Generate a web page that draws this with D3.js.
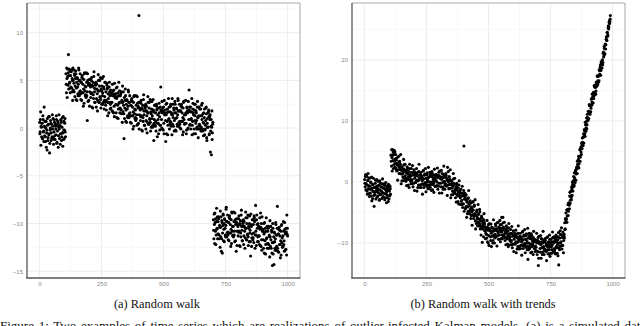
<!DOCTYPE html>
<html>
<head>
<meta charset="utf-8">
<script src="https://cdn.jsdelivr.net/npm/d3@7"></script>
<style>
  html, body { margin: 0; padding: 0; background: #fff; }
  svg { display: block; }
</style>
</head>
<body>
<svg id="chart" width="640" height="326"></svg>
<script>
// ---------------- DATA ----------------
const timeStep = 2;

// (a) Random walk — three regimes, odd and even time indices
const walkA1Start = 1;
const walkA1 = [0.6, -0.4, 1.7, 0.2, -0.9, 0.5, -1.1, 0.9, -0.3, 2.2,
  -0.8, 0.1, -1.4, 0.7, -0.5, -2.3, 0.3, -1.0, 1.2, -0.6,
  -2.6, -0.2, 0.8, -1.3, 0.4, -0.9, -0.1, 1.0, -1.7, -0.4,
  0.6, -1.2, 0.2, -0.7, 0.9, -1.5, -0.3, 0.5, -0.8, 1.4,
  -1.1, 0.3, -0.6, 0.8, -1.3, 0.1, 1.1, -0.5, -1.2, 0.7,
  -0.2, 1.0, -0.9];
const walkA1bStart = 2;
const walkA1b = [-0.6, 0.9, -1.8, 0.1, 0.5, -1.1, 1.3, -0.4, -1.4, 0.2,
  0.7, -0.9, 0.0, -2.0, -0.2, 1.0, -1.3, 0.4, -0.7, 1.2,
  -1.6, 0.0, 0.5, -0.5, -1.1, 1.4, 0.2, -1.0, 0.9, -1.2,
  -0.8, 0.4, -0.1, 1.3, -1.6, 0.3, 0.7, -2.0, 0.1, -0.1,
  0.2, -1.7, 0.9, 0.6, -0.9, -0.5, -1.9, 1.2, -0.2, -1.1,
  0.5, -0.4];
const walkA2Start = 107;
const walkA2 = [5.7, 3.7, 5.2, 6.2, 4.5, 7.7, 5.5, 4.7, 6.0, 4.2,
  4.3, 6.1, 3.8, 5.0, 6.3, 4.0, 4.7, 5.7, 3.3, 5.2,
  5.7, 4.2, 2.9, 5.2, 3.6, 4.6, 6.1, 3.4, 5.0, 3.9,
  3.0, 4.8, 5.3, 3.7, 4.6, 2.3, 5.1, 5.7, 3.9, 3.4,
  4.3, 5.8, 3.4, 0.8, 5.0, 4.5, 2.9, 4.7, 3.8, 5.1,
  3.2, 5.0, 3.7, 4.5, 2.1, 3.5, 5.4, 4.2, 2.7, 4.7,
  4.1, 2.2, 4.6, 3.6, 2.9, 5.6, 3.9, 2.7, 5.0, 3.2,
  3.0, 4.1, 2.5, 5.2, 3.7, 2.7, 4.3, 2.0, 3.3, 4.8,
  2.4, 2.9, 4.7, 4.1, 1.3, 3.6, 2.7, 4.3, 3.8, 2.0,
  4.0, 2.7, 3.6, 1.8, 3.4, 3.9, 1.6, 2.3, 4.7, 3.2,
  3.6, 1.6, 3.1, 4.3, 2.4, 1.0, 3.4, 2.6, 3.9, 2.1,
  2.0, 3.8, 1.5, 2.7, 4.4, 1.7, 2.4, -1.1, 1.0, 2.9,
  3.4, 1.9, 0.6, 2.9, 1.3, 2.3, 3.8, 1.1, 2.7, 1.6,
  0.6, 2.4, 2.9, 1.3, 2.2, -0.1, 2.7, 3.3, 1.5, 1.0,
  1.9, 3.4, 1.0, 0.3, 2.6, 2.1, 0.5, 11.8, 1.4, 2.7,
  0.8, 2.6, 1.3, 2.1, -0.3, 1.1, 3.0, 1.8, 0.3, 2.3,
  1.8, -0.1, 2.3, 1.3, 0.6, 3.3, 1.6, 0.4, 2.7, 0.9,
  0.6, 1.7, 0.1, 2.8, 1.3, 0.3, 1.9, -1.3, 0.9, 2.4,
  0.2, 0.7, 2.5, 1.9, -0.9, 1.4, 0.5, 2.1, 1.6, -0.2,
  2.2, 4.3, 1.8, 0.0, 1.6, 2.1, -0.2, 0.5, 2.9, 1.4,
  1.9, -1.4, 1.4, 2.6, 0.7, -0.7, 1.7, 0.9, 2.2, 0.4,
  0.7, 2.5, 0.2, 1.4, 3.1, 0.4, 1.1, 2.1, -0.3, 1.6,
  2.5, 1.0, -0.3, 2.0, 0.4, 1.4, 2.9, 0.2, 1.8, 0.7,
  0.0, 1.8, 2.3, 0.7, 1.6, -0.7, 2.1, 2.7, 0.9, 0.4,
  1.4, 2.9, 0.5, -0.2, 2.1, 1.6, 0.0, 1.8, 4.0, 2.2,
  0.4, 2.2, 0.9, 1.7, -0.7, 0.7, 2.6, 1.4, -0.1, 1.9,
  1.3, -0.6, 1.8, 0.8, 0.1, 2.8, 1.1, -0.1, 2.2, 0.4,
  0.2, 1.3, -0.3, 2.4, 0.9, -0.1, 1.5, -0.8, 0.5, 2.0,
  -0.2, 0.3, 2.1, 1.5, -1.3, 1.0, 0.1, 1.7, 1.2, -0.6,
  0.9, -2.5, 0.2, -2.8, 1.8, -0.5, 0.6];
const walkA2bStart = 108;
const walkA2b = [4.6, 6.3, 3.2, 5.4, 5.8, 4.1, 6.2, 4.8, 3.7, 5.5,
  5.9, 4.2, 5.2, 2.9, 5.0, 6.1, 3.8, 5.5, 4.4, 6.0,
  3.0, 4.8, 5.3, 4.3, 3.4, 6.3, 5.0, 3.8, 5.7, 3.6,
  4.8, 2.9, 5.5, 5.2, 3.7, 4.1, 2.6, 5.8, 4.4, 3.5,
  3.2, 4.8, 3.8, 5.7, 2.8, 4.7, 5.1, 2.3, 4.5, 4.3,
  3.6, 5.3, 2.2, 4.4, 4.8, 3.1, 5.9, 3.8, 2.7, 4.5,
  4.8, 3.1, 4.1, 1.8, 3.9, 5.0, 2.7, 4.4, 3.3, 5.3,
  2.1, 3.9, 4.4, 3.4, 2.5, 5.4, 4.1, 2.9, 4.8, 2.7,
  3.8, 1.9, 4.5, 4.2, 2.7, 3.1, 1.6, 4.8, 3.4, 2.5,
  2.1, 3.7, 2.7, 4.6, 1.7, 3.6, 4.0, 1.2, 3.4, 3.2,
  2.5, 4.2, 1.1, 3.3, 3.7, 2.0, 4.8, 2.7, 1.6, 3.4,
  3.6, 1.9, 2.9, 0.6, 2.7, 3.8, 1.5, 3.2, 2.1, 4.1,
  0.7, 2.5, 3.0, 2.0, 1.1, 4.0, 2.7, 1.5, 3.4, 1.3,
  2.4, 0.5, 3.1, 2.8, 1.3, 1.7, 0.2, 3.4, 2.0, 1.1,
  0.8, 2.4, 1.4, 3.3, 0.4, 2.3, 2.7, -0.1, 2.1, 1.9,
  1.2, 2.9, -0.2, 2.0, 2.4, 0.7, 3.5, 1.4, 0.3, 2.1,
  2.5, 0.8, 1.8, -0.5, 1.6, 2.7, 0.4, 2.1, 1.0, 3.0,
  -0.3, 1.5, 2.0, 1.0, 0.1, 3.0, 1.7, 0.5, 2.4, 0.3,
  1.6, -0.3, 2.3, 2.0, 0.5, 0.9, -0.6, 2.6, 1.2, 0.3,
  0.3, 1.9, 0.9, 2.8, -0.1, 1.8, 2.2, -0.6, 1.6, 1.4,
  0.8, 2.5, -0.6, 1.6, 2.0, 0.3, 3.1, 1.0, -0.1, 1.7,
  2.3, 0.6, 1.6, -0.7, 1.4, 2.5, 0.2, 1.9, 0.8, 2.8,
  -0.2, 1.6, 2.1, 1.1, 0.2, 3.1, 1.8, 0.6, 2.5, 0.4,
  1.8, -0.1, 2.5, 2.2, 0.7, 1.1, -0.4, 2.8, 1.4, 0.5,
  1.4, 1.6, -0.6, 2.2, 1.8, -0.1, 2.8, 0.9, 1.9, 0.3,
  1.7, -0.1, 1.0, 3.1, 0.3, 2.0, 1.6, -0.6, 2.5, 0.8,
  2.5, 0.5, 1.6, -0.1, 2.2, 1.1, -1.0, 1.3, 0.3, 2.0,
  -0.1, 2.0, 0.1, 1.3, 2.6, -0.3, 0.6, 1.6, 1.1, -0.7,
  -0.1, 0.8, 2.2, -1.0, 0.5, 0.1, 1.6, 1.9, -0.7, 1.2,
  1.4, -0.3, 0.9, 0.1, -1.2, 0.4];
const walkA3Start = 701;
const walkA3 = [-9.6, -11.6, -10.1, -8.9, -10.8, -12.2, -9.8, -10.6, -9.3, -11.1,
  -11.1, -9.3, -11.6, -10.4, -8.7, -11.4, -12.9, -9.7, -13.1, -10.2,
  -9.1, -10.6, -11.9, -9.6, -11.2, -10.2, -8.3, -11.4, -9.8, -10.9,
  -11.7, -9.9, -9.4, -11.0, -10.1, -12.4, -9.6, -8.8, -10.8, -11.3,
  -10.3, -8.8, -11.2, -11.9, -9.6, -10.1, -12.9, -9.9, -10.8, -9.5,
  -11.3, -9.5, -10.8, -10.0, -12.4, -11.0, -9.1, -10.3, -11.8, -9.8,
  -10.3, -12.2, -9.8, -10.8, -11.5, -8.8, -10.5, -11.7, -9.4, -11.2,
  -11.4, -10.3, -11.9, -9.2, -10.7, -13.4, -10.1, -12.4, -11.1, -9.6,
  -11.5, -11.0, -9.2, -9.8, -12.6, -8.1, -11.2, -9.6, -10.1, -11.9,
  -10.0, -11.3, -10.4, -12.2, -10.6, -8.9, -12.4, -11.7, -9.3, -10.8,
  -10.6, -12.6, -11.1, -9.9, -11.8, -13.2, -10.8, -11.6, -10.3, -12.1,
  -12.1, -10.3, -12.6, -11.4, -9.7, -12.4, -11.7, -10.7, -13.1, -14.4,
  -10.5, -12.0, -14.3, -11.0, -12.6, -11.6, -10.1, -12.8, -11.2, -8.2,
  -12.9, -11.1, -10.6, -12.2, -11.3, -13.6, -10.8, -10.2, -12.0, -12.5,
  -11.3, -9.8, -12.2, -12.9, -10.6, -11.1, -12.7, -10.9, -9.1, -10.5];
const walkA3bStart = 702;
const walkA3b = [-10.7, -9.0, -12.1, -9.9, -9.5, -11.2, -8.4, -10.5, -11.6, -9.8,
  -9.5, -11.2, -10.2, -12.5, -10.4, -9.3, -11.6, -9.9, -11.0, -9.0,
  -11.8, -10.0, -9.5, -10.5, -11.4, -8.5, -9.8, -11.0, -9.1, -11.2,
  -9.9, -11.8, -9.2, -9.5, -11.0, -10.6, -12.1, -8.9, -10.3, -11.2,
  -11.4, -9.8, -10.8, -8.9, -11.8, -9.9, -9.5, -12.3, -10.1, -10.3,
  -10.9, -9.2, -12.3, -10.1, -9.7, -11.4, -8.6, -10.7, -11.8, -10.0,
  -9.6, -11.3, -10.3, -12.6, -10.5, -9.4, -11.7, -10.0, -11.1, -9.1,
  -12.3, -10.5, -10.0, -11.0, -11.9, -9.0, -10.3, -11.5, -9.6, -11.7,
  -10.1, -12.0, -9.4, -9.7, -11.2, -10.8, -12.3, -9.1, -10.5, -11.4,
  -11.9, -10.3, -11.3, -9.4, -12.3, -10.4, -10.0, -12.8, -10.6, -10.8,
  -11.7, -10.0, -13.1, -10.9, -10.5, -12.2, -9.4, -11.5, -12.6, -10.8,
  -10.5, -12.2, -11.2, -13.5, -11.4, -10.3, -12.6, -10.9, -12.0, -10.0,
  -13.2, -11.4, -10.9, -11.9, -12.8, -9.9, -11.2, -12.4, -10.5, -12.6,
  -11.1, -13.0, -10.4, -10.7, -12.2, -11.8, -13.3, -10.1, -11.5, -12.4,
  -12.4, -10.8, -11.8, -9.9, -12.8, -10.9, -10.5, -13.3, -11.1, -11.3];

// (b) Random walk with trends
const walkB1Start = 1;
const walkB1 = [0.4, -0.8, 1.2, -0.3, 0.9, -1.5, 0.2, 1.4, -0.6, -1.9,
  0.6, -1.2, -0.1, -2.3, 0.8, -1.0, -2.7, -0.4, -1.6, -4.0,
  -0.9, -2.1, 0.3, -1.4, -0.7, -2.5, -1.1, 0.1, -1.8, -0.5,
  -2.9, -1.3, -0.2, -2.0, -0.8, -1.6, 0.5, -2.4, -1.0, -0.3,
  -1.9, -2.6, -0.6, -1.4, -3.4, -0.9, -2.2, -1.2, -0.4, -2.8,
  -1.5, -0.7, -2.0];
const walkB1bStart = 2;
const walkB1b = [-0.2, 0.9, -1.3, 1.1, -0.5, -2.0, 0.3, -1.1, 0.7, -2.4,
  -0.7, -1.8, 0.0, -1.2, -3.1, -0.4, -1.5, 0.6, -2.2, -0.9,
  -1.7, -0.2, -2.8, -1.0, 0.4, -1.6, -2.3, -0.6, -1.3, -3.0,
  0.2, -2.1, -0.8, -1.5, -2.7, -0.3, -1.8, -1.0, -2.5, -0.5,
  -2.9, -1.2, -0.1, -2.0, -1.6, -2.6, -0.8, -3.2, -1.4, -0.6,
  -2.3, -1.1];
const walkB2Start = 107;
const walkB2 = [4.4, 2.6, 4.0, 5.3, 3.5, 2.2, 4.5, 3.4, 4.9, 3.0,
  2.2, 3.6, 1.8, 2.8, 4.1, 2.0, 2.5, 3.3, 1.4, 2.9,
  2.5, 1.3, 0.2, 2.1, 0.8, 1.6, 2.8, 0.6, 1.9, 1.0,
  0.1, 1.5, 1.9, 0.6, 1.3, -0.5, 1.7, 2.2, 0.8, 0.4,
  1.0, 2.2, 0.2, -0.3, 1.5, 1.1, -0.2, 1.3, 0.6, 1.6,
  -0.1, 1.4, 0.3, 1.0, -0.9, 0.2, 1.7, 0.7, -0.5, 1.1,
  0.6, -0.9, 1.0, 0.2, -0.3, 1.8, 0.5, -0.5, 1.3, -0.1,
  -0.3, 0.6, -0.7, 1.5, 0.3, -0.5, 0.8, -1.1, 0.0, 1.2,
  -0.4, 0.0, 1.4, 0.9, -1.3, 0.5, -0.2, 1.1, 0.7, -0.7,
  1.2, 0.2, 0.9, -0.6, 0.7, 1.1, -0.7, -0.2, 1.8, 0.6,
  0.8, -0.8, 0.4, 1.4, -0.1, -1.2, 0.7, 0.0, 1.1, -0.4,
  -0.3, 1.1, -0.7, 0.3, 2.4, -0.5, 0.0, 0.8, -1.1, 0.4,
  0.2, -1.0, -2.1, -0.2, -1.5, -0.7, 0.5, -1.7, -0.4, -1.3,
  -2.6, -1.2, -0.8, -2.1, -1.4, -3.2, -1.0, -0.5, -1.9, -2.3,
  -2.4, -1.2, -3.2, -3.7, -1.9, -2.3, -3.6, 5.9, -2.8, -1.8,
  -4.4, -2.9, -4.0, -3.3, -5.2, -4.1, -2.6, -3.6, -4.8, -3.2,
  -4.5, -6.0, -4.1, -4.9, -5.4, -3.3, -4.6, -5.6, -3.8, -5.2,
  -6.4, -5.5, -6.8, -4.6, -5.8, -6.6, -5.3, -7.2, -6.1, -4.9,
  -7.7, -7.3, -5.9, -6.4, -9.9, -6.8, -7.5, -6.2, -6.6, -8.0,
  -7.4, -8.4, -7.7, -9.2, -7.9, -7.5, -10.0, -8.8, -6.8, -8.0,
  -8.0, -9.6, -8.4, -7.4, -8.9, -10.0, -8.1, -8.8, -7.7, -9.2,
  -8.6, -7.2, -9.0, -8.0, -6.7, -8.8, -8.3, -7.5, -9.4, -7.9,
  -7.0, -8.2, -9.3, -5.8, -8.7, -7.9, -6.7, -8.9, -7.6, -8.5,
  -9.6, -8.2, -7.8, -9.1, -8.4, -10.2, -8.0, -7.5, -8.9, -9.3,
  -9.0, -7.8, -9.8, -10.3, -8.5, -8.9, -10.2, -8.7, -9.4, -8.4,
  -10.2, -8.7, -9.8, -9.1, -11.0, -9.9, -8.4, -9.4, -10.6, -9.0,
  -9.4, -10.9, -9.0, -9.8, -10.3, -8.2, -9.5, -10.5, -8.7, -10.1,
  -10.3, -9.4, -10.7, -8.5, -9.7, -10.5, -12.7, -11.1, -10.0, -8.8,
  -10.6, -10.2, -8.8, -9.3, -11.5, -9.7, -10.4, -9.1, -9.5, -10.9,
  -9.5, -10.5, -9.8, -11.3, -10.0, -9.6, -11.4, -13.7, -8.9, -10.1,
  -9.9, -11.5, -10.3, -9.3, -10.8, -11.9, -10.0, -10.7, -9.6, -11.1,
  -11.0, -9.6, -11.4, -10.4, -9.1, -11.2, -10.7, -9.9, -11.8, -10.3,
  -9.4, -10.6, -11.7, -9.8, -11.1, -10.3, -9.1, -11.3, -10.0, -10.9,
  -11.1, -9.7, -9.3, -10.6, -9.9, -11.7, -9.5, -9.0, -13.6, -10.8,
  -9.2, -8.0, -10.0, -10.5, -8.7, -9.1, -10.4, -8.9, -9.6, -8.6];
const walkB2bStart = 108;
const walkB2b = [3.4, 5.3, 1.8, 4.4, 4.9, 2.8, 5.2, 3.7, 2.4, 4.5,
  3.9, 1.9, 3.1, 0.3, 2.8, 4.2, 1.4, 3.4, 2.1, 4.5,
  -0.3, 1.9, 2.5, 1.3, 0.2, 3.7, 2.1, 0.7, 2.9, 0.4,
  1.7, -0.6, 2.5, 2.2, 0.4, 0.9, -0.9, 2.9, 1.2, 0.1,
  -0.3, 1.6, 0.4, 2.7, -0.8, 1.5, 2.0, -1.4, 1.3, 1.0,
  0.1, 2.2, -1.5, 1.1, 1.6, -0.5, 2.9, 0.4, -0.9, 1.2,
  1.6, -0.4, 0.8, -2.0, 0.5, 1.9, -0.9, 1.1, -0.2, 2.2,
  -1.6, 0.6, 1.2, 0.0, -1.1, 2.4, 0.8, -0.6, 1.6, -0.9,
  0.9, -1.4, 1.7, 1.4, -0.4, 0.1, -1.7, 2.1, 0.4, -0.7,
  -0.7, 1.2, 0.0, 2.3, -1.2, 1.1, 1.6, -1.8, 0.9, 0.6,
  -0.2, 1.9, -1.8, 0.8, 1.3, -0.8, 2.6, 0.1, -1.2, 0.9,
  1.4, -0.6, 0.6, -2.2, 0.3, 1.7, -1.1, 0.9, -0.4, 2.0,
  -2.6, -0.4, 0.2, -1.0, -2.1, 1.4, -0.2, -1.6, 0.6, -1.9,
  -1.0, -3.3, -0.2, -0.5, -2.3, -1.8, -3.6, 0.2, -1.5, -2.6,
  -3.7, -1.8, -3.0, -0.7, -4.2, -1.9, -1.4, -4.8, -2.1, -2.4,
  -4.2, -2.1, -5.8, -3.2, -2.7, -4.8, -1.4, -3.9, -5.2, -3.1,
  -3.5, -5.5, -4.3, -7.1, -4.6, -3.2, -6.0, -4.0, -5.3, -2.9,
  -7.7, -5.5, -4.9, -6.1, -7.2, -3.7, -5.3, -6.7, -4.5, -7.0,
  -6.4, -8.7, -5.6, -5.9, -7.7, -7.2, -9.0, -5.2, -6.9, -8.0,
  -9.3, -7.4, -8.6, -6.3, -9.8, -7.5, -7.0, -10.4, -7.7, -8.0,
  -9.0, -6.9, -10.6, -8.0, -7.5, -9.6, -6.2, -8.7, -10.0, -7.9,
  -6.9, -8.9, -7.7, -10.5, -8.0, -6.6, -9.4, -7.4, -8.7, -6.3,
  -9.8, -7.6, -7.0, -8.2, -9.3, -5.8, -7.4, -8.8, -6.6, -9.1,
  -8.0, -10.3, -7.2, -7.5, -9.3, -8.8, -10.6, -6.8, -8.5, -9.6,
  -10.3, -8.4, -9.6, -7.3, -10.8, -8.5, -8.0, -11.4, -8.7, -9.0,
  -10.0, -7.9, -11.6, -9.0, -8.5, -10.6, -7.2, -9.7, -11.0, -8.9,
  -8.4, -10.4, -9.2, -12.0, -9.5, -8.1, -10.9, -8.9, -10.2, -7.8,
  -11.6, -9.4, -8.8, -10.0, -11.1, -7.6, -9.2, -10.6, -8.4, -10.9,
  -9.3, -11.6, -8.5, -8.8, -10.6, -10.1, -11.9, -8.1, -9.8, -10.9,
  -11.4, -9.5, -10.7, -8.4, -11.9, -9.6, -9.1, -12.5, -9.8, -10.1,
  -10.9, -8.8, -12.5, -9.9, -9.4, -11.5, -8.1, -10.6, -11.9, -9.8,
  -9.3, -11.3, -10.1, -12.9, -10.4, -9.0, -11.8, -9.8, -11.1, -8.7,
  -12.2, -10.0, -9.4, -10.6, -11.7, -8.2, -9.8, -11.2, -9.0, -11.5,
  -9.5, -11.8, -8.7, -9.0, -10.8, -10.3, -12.1, -8.3, -10.0, -11.1,
  -10.5, -8.6, -9.8, -7.5, -11.0, -8.7, -8.2, -11.6, -8.9, -9.2];
const walkB3Start = 807;
const walkB3 = [-6.7, -7.7, -6.2, -6.6, -4.6, -5.6, -4.5, -5.5, -3.4, -3.8,
  -2.3, -3.5, -2.3, -2.5, -0.8, -2.2, -0.4, -0.8, 0.9, -0.5,
  0.7, -0.1, 1.9, 1.3, 2.4, 1.4, 2.9, 2.5, 4.2, 3.0,
  4.2, 3.4, 5.4, 4.9, 6.4, 5.5, 6.5, 6.0, 7.9, 7.4,
  8.4, 7.5, 9.4, 8.9, 10.5, 9.4, 10.6, 10.1, 11.6, 11.2,
  12.5, 11.1, 12.6, 12.1, 13.6, 13.1, 13.9, 13.0, 14.7, 14.1,
  15.6, 14.4, 15.5, 14.9, 16.4, 15.8, 17.3, 16.6, 17.4, 16.6,
  18.3, 17.5, 19.2, 18.3, 19.4, 18.7, 20.0, 19.6, 21.3, 20.7,
  21.9, 21.0, 22.6, 22.5, 23.8, 23.2, 24.5, 24.1, 25.6, 25.4,
  26.4, 26.3, 27.3];
const walkB3bStart = 808;
const walkB3b = [-7.8, -6.0, -5.1, -6.1, -6.6, -4.6, -3.7, -4.8, -3.6, -4.4,
  -1.7, -3.0, -1.5, -2.9, -1.1, 0.0, -1.5, 0.2, -0.7, 1.5,
  0.4, 1.8, 0.3, 2.1, 1.4, 3.4, 2.6, 3.7, 2.3, 4.1,
  5.3, 4.1, 5.7, 4.5, 6.0, 7.2, 6.0, 7.4, 6.4, 8.6,
  7.9, 9.8, 8.3, 9.9, 8.7, 11.1, 10.4, 11.6, 10.4, 12.7,
  11.5, 12.5, 11.5, 13.6, 12.6, 14.4, 12.9, 14.4, 13.7, 15.8,
  14.6, 15.9, 14.4, 16.3, 15.7, 17.4, 16.0, 17.3, 16.4, 18.4,
  17.7, 18.8, 17.5, 19.7, 18.7, 20.0, 19.2, 21.1, 20.5, 22.2,
  21.0, 22.5, 21.8, 23.4, 23.3, 24.5, 23.9, 25.3, 25.1, 26.2,
  26.0, 26.7];

const xTicks = [0, 250, 500, 750, 1000];
const yTicksA = [-15, -10, -5, 0, 5, 10];
const yTicksB = [-10, 0, 10, 20];

const subCaptions = ["(a) Random walk", "(b) Random walk with trends"];
const figureCaption = "Figure 1: Two examples of time series which are realizations of outlier-infected Kalman models. (a) is a simulated data";

// ---------------- DRAWING ----------------
function toPoints(segs) {
  return segs.flatMap(([start, vals]) => vals.map((v, j) => ({ t: start + timeStep * j, v })));
}
const pointsA = toPoints([[walkA1Start, walkA1], [walkA1bStart, walkA1b],
  [walkA2Start, walkA2], [walkA2bStart, walkA2b], [walkA3Start, walkA3], [walkA3bStart, walkA3b]]);
const pointsB = toPoints([[walkB1Start, walkB1], [walkB1bStart, walkB1b],
  [walkB2Start, walkB2], [walkB2bStart, walkB2b], [walkB3Start, walkB3], [walkB3bStart, walkB3b]]);

function expand(ext, f) { const d = (ext[1] - ext[0]) * f; return [ext[0] - d, ext[1] + d]; }

const svg = d3.select("#chart");
svg.append("rect").attr("width", 640).attr("height", 326).attr("fill", "#fff");

function panel(points, yTicks, box, caption, capX) {
  const g = svg.append("g");
  const x = d3.scaleLinear().domain([-50, 1050]).range([box.x0, box.x1]);
  const y = d3.scaleLinear().domain(expand(d3.extent(points, d => d.v), 0.05)).range([box.y1, box.y0]);

  // minor grid
  const xMinor = xTicks.slice(0, -1).map((t, i) => (t + xTicks[i + 1]) / 2);
  const step = yTicks[1] - yTicks[0];
  const yMinor = d3.range(yTicks[0] - step / 2, yTicks[yTicks.length - 1] + step, step)
    .filter(v => v >= y.domain()[0] && v <= y.domain()[1]);
  g.selectAll(".xminor").data(xMinor).join("line")
    .attr("x1", d => x(d)).attr("x2", d => x(d)).attr("y1", box.y0).attr("y2", box.y1)
    .attr("stroke", "#f4f4f4").attr("stroke-width", 0.6);
  g.selectAll(".yminor").data(yMinor).join("line")
    .attr("x1", box.x0).attr("x2", box.x1).attr("y1", d => y(d)).attr("y2", d => y(d))
    .attr("stroke", "#f4f4f4").attr("stroke-width", 0.6);
  // major grid
  g.selectAll(".xmajor").data(xTicks).join("line")
    .attr("x1", d => x(d)).attr("x2", d => x(d)).attr("y1", box.y0).attr("y2", box.y1)
    .attr("stroke", "#ebebeb").attr("stroke-width", 0.9);
  g.selectAll(".ymajor").data(yTicks).join("line")
    .attr("x1", box.x0).attr("x2", box.x1).attr("y1", d => y(d)).attr("y2", d => y(d))
    .attr("stroke", "#ebebeb").attr("stroke-width", 0.9);

  // points
  g.selectAll("circle").data(points).join("circle")
    .attr("cx", d => x(d.t)).attr("cy", d => y(d.v)).attr("r", 1.55).attr("fill", "#000");

  // border
  g.append("line").attr("x1", box.x0).attr("x2", box.x1).attr("y1", box.y0).attr("y2", box.y0)
    .attr("stroke", "#a8a8a8").attr("stroke-width", 1);
  g.append("line").attr("x1", box.x1).attr("x2", box.x1).attr("y1", box.y0).attr("y2", box.y1)
    .attr("stroke", "#a8a8a8").attr("stroke-width", 1);
  g.append("line").attr("x1", box.x0).attr("x2", box.x0).attr("y1", box.y0).attr("y2", box.y1 + 0.6)
    .attr("stroke", "#555").attr("stroke-width", 1.3);
  g.append("line").attr("x1", box.x0 - 0.6).attr("x2", box.x1 + 0.5).attr("y1", box.y1).attr("y2", box.y1)
    .attr("stroke", "#555").attr("stroke-width", 1.3);

  // axes labels (no tick marks)
  const xAxis = d3.axisBottom(x).tickValues(xTicks).tickFormat(d3.format("d")).tickSize(0).tickPadding(4);
  const xa = g.append("g").attr("transform", `translate(0,${box.y1})`).call(xAxis);
  xa.select(".domain").remove();
  xa.selectAll("text").attr("font-family", "'Liberation Sans', Arial, sans-serif")
    .attr("font-size", 6).attr("fill", "#8a8a8a");
  const yAxis = d3.axisLeft(y).tickValues(yTicks).tickFormat(d3.format("d")).tickSize(0).tickPadding(4);
  const ya = g.append("g").attr("transform", `translate(${box.x0},0)`).call(yAxis);
  ya.select(".domain").remove();
  ya.selectAll("text").attr("font-family", "'Liberation Sans', Arial, sans-serif")
    .attr("font-size", 6).attr("fill", "#8a8a8a");

  svg.append("text").attr("x", capX).attr("y", 308).attr("text-anchor", "middle")
    .attr("font-family", "'Liberation Serif', 'Times New Roman', serif").attr("font-size", 12.4)
    .attr("fill", "#111").text(caption);
}

panel(pointsA, yTicksA, { x0: 27, x1: 300, y0: 3, y1: 278 }, subCaptions[0], 157);
panel(pointsB, yTicksB, { x0: 352, x1: 625, y0: 3, y1: 278 }, subCaptions[1], 483);

svg.append("text").attr("x", 0).attr("y", 330)
  .attr("font-family", "'Liberation Serif', 'Times New Roman', serif").attr("font-size", 13)
  .attr("word-spacing", 1.5)
  .attr("fill", "#111").text(figureCaption);
</script>
</body>
</html>
